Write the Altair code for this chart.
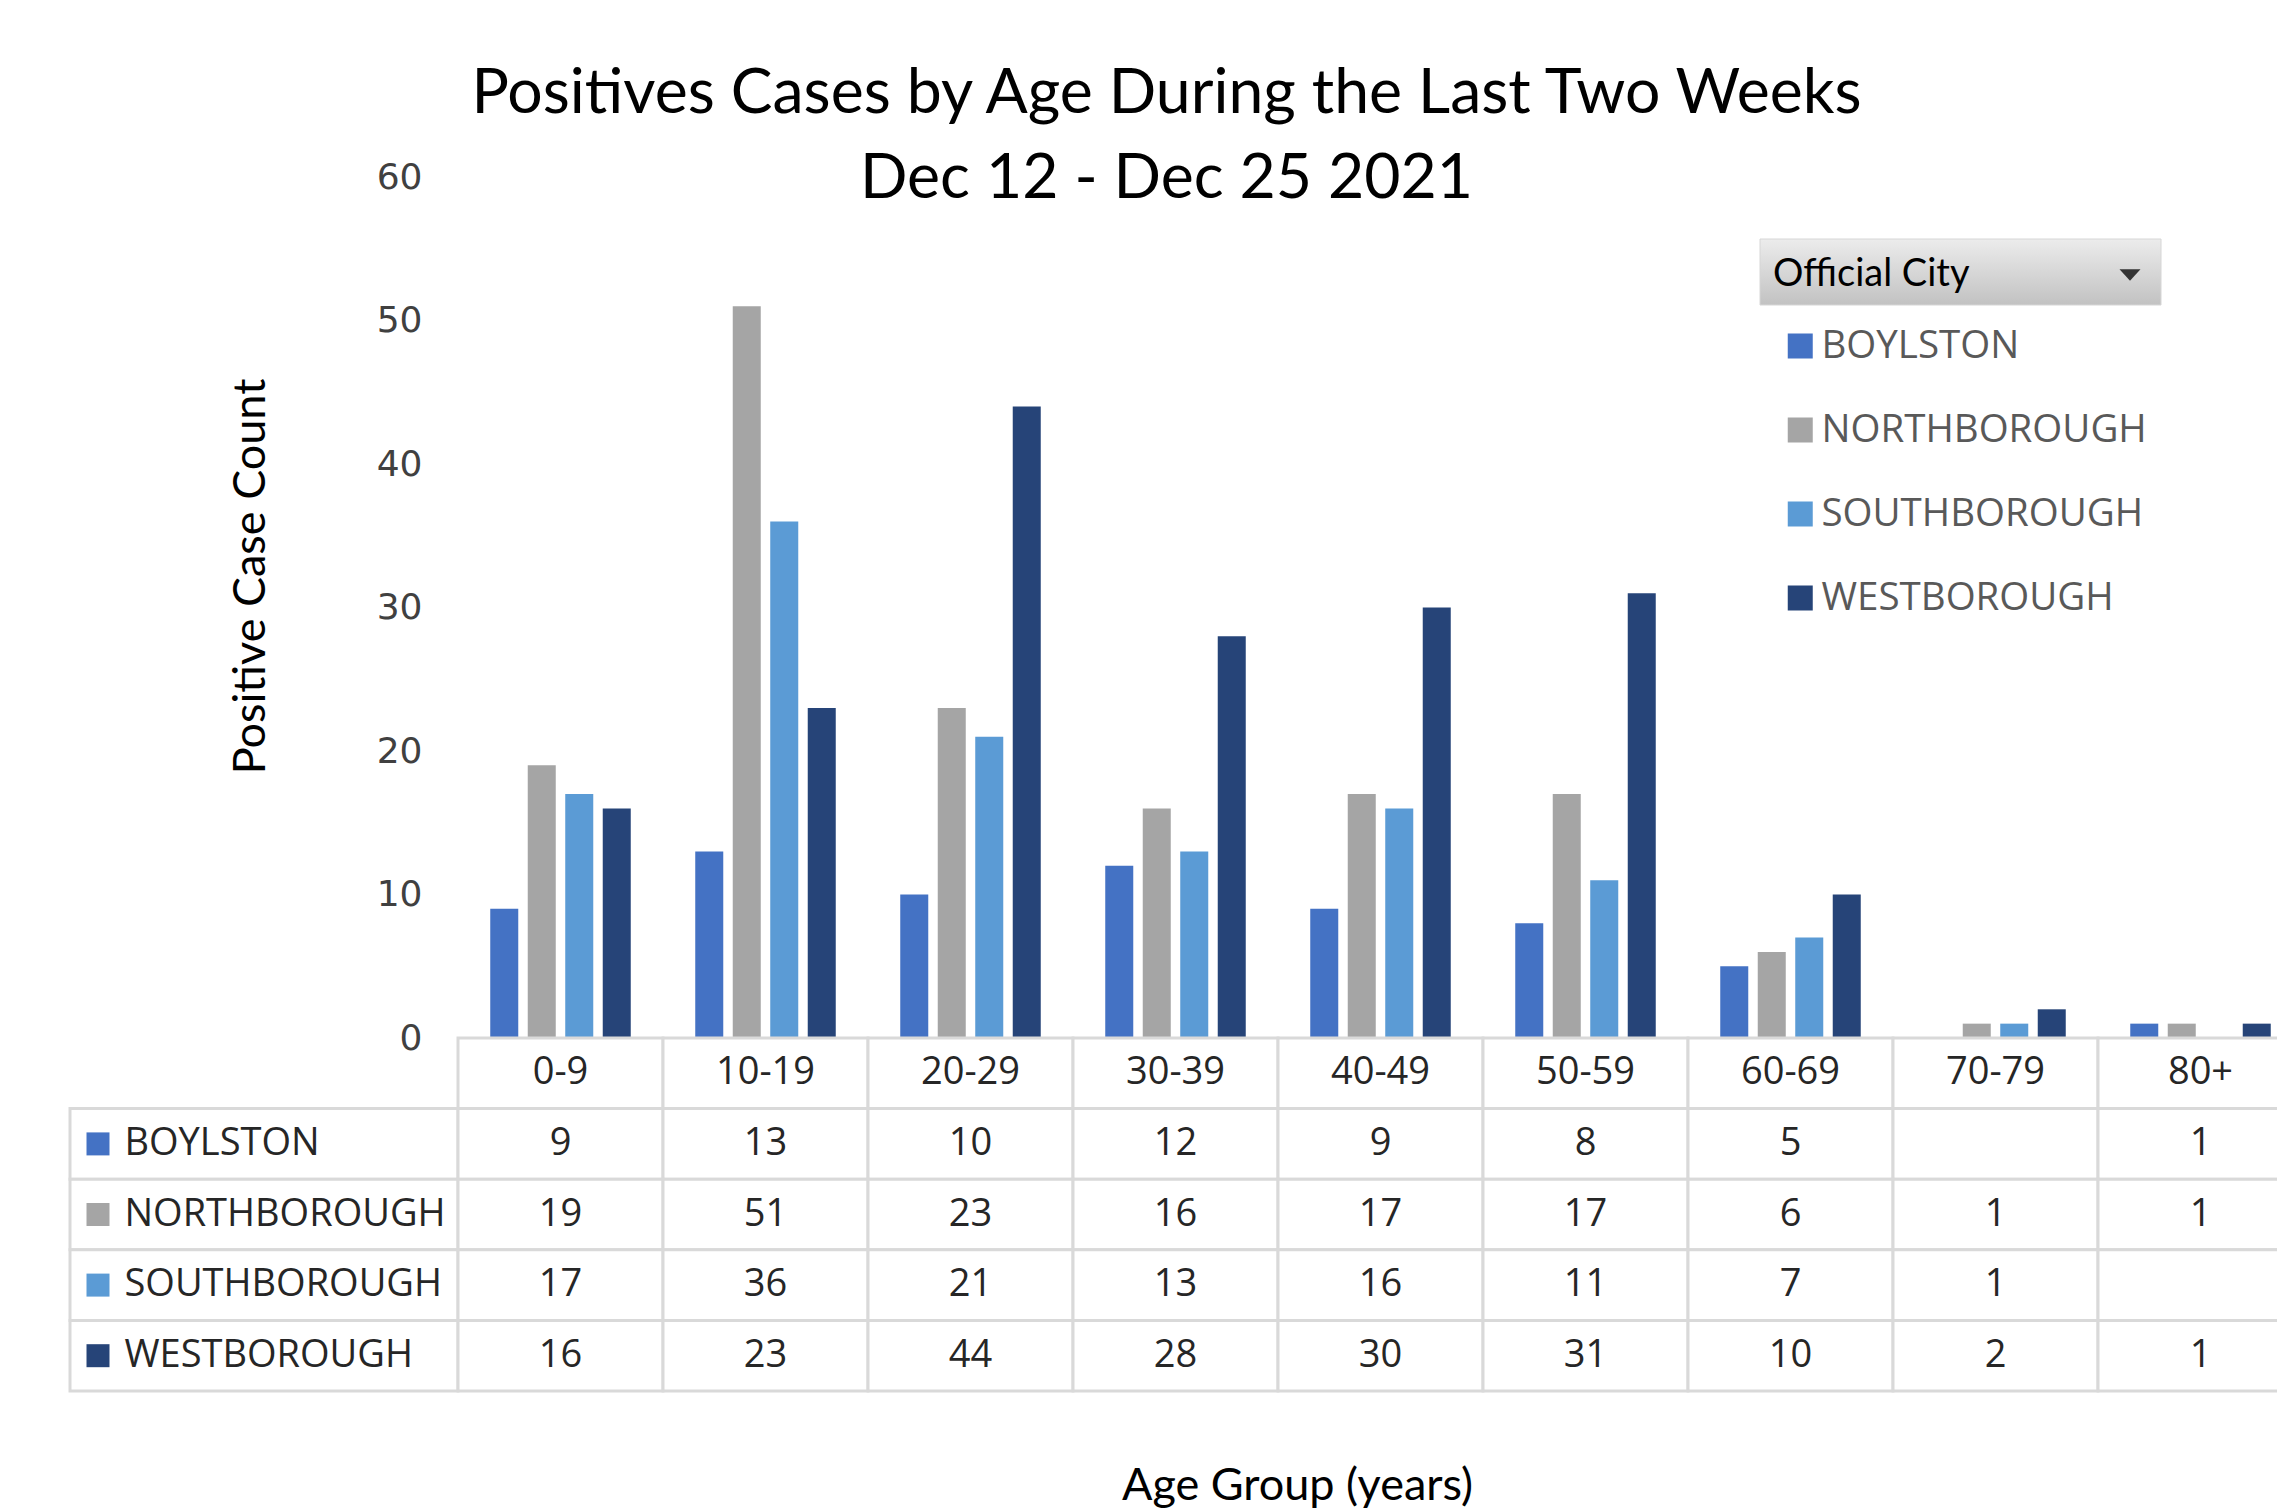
import altair as alt
import pandas as pd

# ---------------- data ----------------
ages = ["0-9", "10-19", "20-29", "30-39", "40-49", "50-59", "60-69", "70-79", "80+"]
cities = ["BOYLSTON", "NORTHBOROUGH", "SOUTHBOROUGH", "WESTBOROUGH"]
city_colors = ["#4472C4", "#A5A5A5", "#5B9BD5", "#264478"]
boylston = [9, 13, 10, 12, 9, 8, 5, None, 1]
northborough = [19, 51, 23, 16, 17, 17, 6, 1, 1]
southborough = [17, 36, 21, 13, 16, 11, 7, 1, None]
westborough = [16, 23, 44, 28, 30, 31, 10, 2, 1]
y_ticks = [0, 10, 20, 30, 40, 50, 60]
title_lines = ["Positives Cases by Age During the Last Two Weeks", "Dec 12 - Dec 25 2021"]
y_title = "Positive Case Count"
x_title = "Age Group (years)"
legend_title = "Official City"

series = dict(zip(cities, [boylston, northborough, southborough, westborough]))

bar_rows = []
for c in cities:
    for a, v in zip(ages, series[c]):
        if v is not None:
            bar_rows.append({"age": a, "city": c, "count": v})
bar_df = pd.DataFrame(bar_rows)

HDR = "hdr"
rows = [HDR] + cities
tab_rows = []
for a in ages:
    tab_rows.append({"age": a, "row": HDR, "txt": a})
for c in cities:
    for a, v in zip(ages, series[c]):
        tab_rows.append({"age": a, "row": c, "txt": "" if v is None else str(v)})
tab_df = pd.DataFrame(tab_rows)
lab_df = pd.DataFrame({"row": cities, "hex": city_colors})

# ---------------- layout constants ----------------
COL = 205
W = COL * len(ages)
H = 861
TAB_H = 353
GRID = "#d9d9d9"
TXT = "#262626"

# ---------------- top: bar chart ----------------
bars = alt.Chart(bar_df).mark_bar().encode(
    x=alt.X("age:N", sort=ages,
            scale=alt.Scale(domain=ages, paddingInner=0, paddingOuter=0), axis=None),
    xOffset=alt.XOffset("city:N", sort=cities,
                        scale=alt.Scale(domain=cities, paddingInner=0.253, paddingOuter=0.86)),
    y=alt.Y("count:Q",
            scale=alt.Scale(domain=[0, 60], nice=False, zero=True),
            axis=alt.Axis(values=y_ticks, grid=False, domain=False, ticks=False, tickSize=0,
                          labelFont="DejaVu Sans", labelFontSize=36, labelColor="#404040",
                          labelPadding=36,
                          title=y_title, titleFont="Lato", titleFontSize=45,
                          titleFontWeight="normal", titleColor="#000000",
                          titleX=-208, titleY=399, titleAngle=270, titleLimit=0,
                          titleAlign="center", titleBaseline="middle")),
    color=alt.Color("city:N", sort=cities,
                    scale=alt.Scale(domain=cities, range=city_colors),
                    legend=alt.Legend(orient="none", legendX=1315, legendY=79,
                                      title=legend_title, titleFont="Lato", titleFontSize=38,
                                      titleFontWeight="normal", titleColor="#000000",
                                      titlePadding=32, titleLimit=0,
                                      symbolType="square", symbolSize=625, symbolStrokeWidth=0,
                                      symbolOffset=8,
                                      labelFont="Open Sans", labelFontSize=38.5, labelColor="#595959",
                                      labelOffset=2, labelLimit=0,
                                      rowPadding=44, clipHeight=40, padding=0)),
)

deco = alt.Data(values=[{"k": 1}])
box = alt.Chart(deco).mark_rect(
    fill=alt.LinearGradient(gradient="linear",
                            stops=[alt.GradientStop(color="#ececec", offset=0),
                                   alt.GradientStop(color="#c2c2c2", offset=1)],
                            x1=0, x2=0, y1=0, y2=1),
    stroke="#d6d6d6", strokeWidth=1,
).encode(x=alt.value(1302), x2=alt.value(1703), y=alt.value(62), y2=alt.value(128))

arrow = alt.Chart(deco).mark_point(
    shape="M-1,-0.55L1,-0.55L0,0.55Z", filled=True, color="#333333", size=441, opacity=1
).encode(x=alt.value(1672), y=alt.value(98))

top = alt.layer(box, arrow, bars).properties(
    width=W, height=H,
    title=alt.TitleParams(text=title_lines, font="Lato", fontSize=62.5, fontWeight="normal",
                          color="#000000", anchor="middle", frame="group", dx=-214,
                          lineHeight=85, offset=0, baseline="bottom", dy=114, limit=0),
)

# ---------------- bottom: data table ----------------
x_tab_axis = alt.Axis(labels=False, ticks=False, domain=False, grid=False,
                      title=x_title, titleFont="Lato", titleFontSize=45,
                      titleFontWeight="normal", titleColor="#000000", titleLimit=0,
                      titleX=839, titleY=94, titleAlign="center", titleBaseline="middle")
y_tab_axis = alt.Axis(labelExpr="datum.value == 'hdr' ? '' : datum.value",
                      labelAlign="left", labelBaseline="middle", labelPadding=334,
                      labelLimit=0,
                      ticks=False, tickSize=0, domain=False, grid=False,
                      labelFont="Open Sans", labelFontSize=38, labelColor=TXT, title=None)
x_tab = alt.X("age:N", sort=ages, scale=alt.Scale(domain=ages, paddingInner=0, paddingOuter=0),
              axis=x_tab_axis)
y_tab = alt.Y("row:N", sort=rows, scale=alt.Scale(domain=rows, paddingInner=0, paddingOuter=0),
              axis=y_tab_axis)

cells = alt.Chart(tab_df).mark_rect(fill="white", stroke=GRID, strokeWidth=3).encode(
    x=x_tab, y=y_tab)
cell_text = alt.Chart(tab_df).mark_text(font="Open Sans", fontSize=38, color=TXT).encode(
    x=x_tab, y=y_tab, text="txt:N")
lab_cells = alt.Chart(lab_df).mark_rect(fill="white", stroke=GRID, strokeWidth=3).encode(
    x=alt.value(-388), x2=alt.value(0), y=y_tab)
lab_sq = alt.Chart(lab_df).mark_square(size=529, opacity=1).encode(
    x=alt.value(-360), y=y_tab, fill=alt.Fill("hex:N", scale=None))

table = alt.layer(lab_cells, cells, cell_text, lab_sq).properties(width=W, height=TAB_H)

chart = (
    alt.vconcat(top, table, spacing=0, bounds="flush")
    .resolve_scale(x="independent", y="independent", color="independent")
    .resolve_legend(color="independent")
    .properties(padding={"left": 60, "top": 54, "right": -28, "bottom": 0},
                background="white")
    .configure_view(stroke=None)
)

chart.save("out.html", embed_options={"renderer": "svg", "actions": False})
